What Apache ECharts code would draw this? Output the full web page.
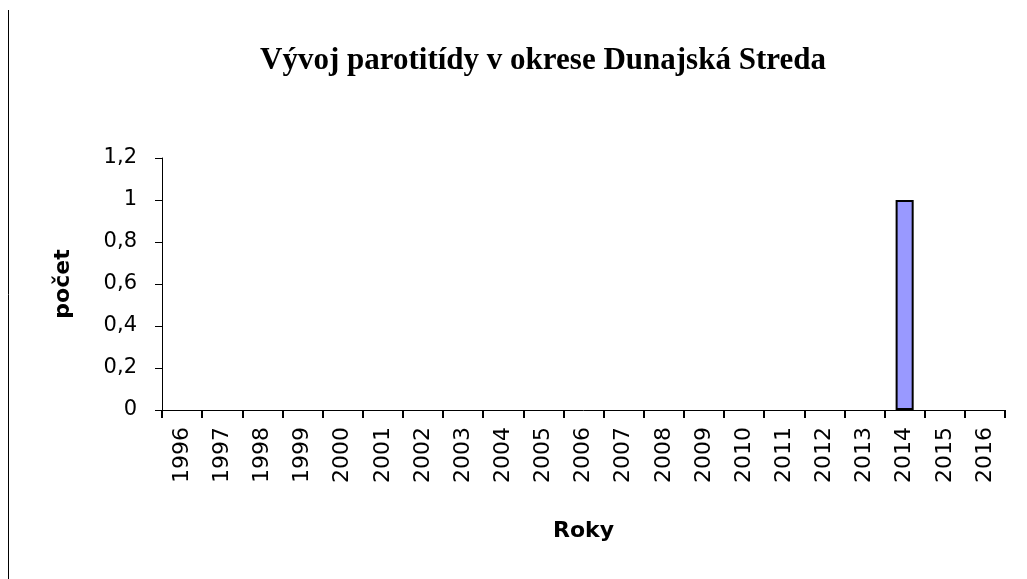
<!DOCTYPE html>
<html>
<head>
<meta charset="utf-8">
<script src="https://cdn.jsdelivr.net/npm/echarts@6/dist/echarts.min.js"></script>
<style>
  html, body { margin: 0; padding: 0; background: #fff; }
  #chart { width: 1027px; height: 579px; }
</style>
</head>
<body>
<div id="chart"></div>
<script>
// roky a počty prípadov
const years = ['1996', '1997', '1998', '1999', '2000', '2001', '2002', '2003', '2004', '2005', '2006',
  '2007', '2008', '2009', '2010', '2011', '2012', '2013', '2014', '2015', '2016'];
const counts = [0, 0, 0, 0, 0, 0, 0, 0, 0, 0, 0, 0, 0, 0, 0, 0, 0, 0, 1, 0, 0];
const yTicks = [0, 0.2, 0.4, 0.6, 0.8, 1, 1.2];

const myChart = echarts.init(document.getElementById('chart'));

// nulové stĺpce bez orámovania
const barData = counts.map(v => ({
  value: v,
  itemStyle: v === 0 ? { borderWidth: 0 } : {}
}));

const option = {
  backgroundColor: '#fff',
  animation: false,
  title: {
    text: 'Vývoj parotitídy v okrese Dunajská Streda',
    left: 538,
    textAlign: 'center',
    top: 40,
    textStyle: {
      fontFamily: 'Liberation Serif',
      fontWeight: 'bold',
      fontSize: 31,
      color: '#000'
    }
  },
  graphic: [
    {
      type: 'line',
      shape: { x1: 8.5, y1: 10, x2: 8.5, y2: 579 },
      style: { stroke: '#000', lineWidth: 1 }
    }
  ],
  grid: {
    left: 162,
    right: 22,
    top: 158,
    bottom: 169
  },
  xAxis: {
    type: 'category',
    data: years,
    name: 'Roky',
    nameLocation: 'middle',
    nameGap: 110,
    nameTextStyle: {
      fontFamily: 'DejaVu Sans',
      fontWeight: 'bold',
      fontSize: 22,
      color: '#000'
    },
    axisLine: { lineStyle: { color: '#000', width: 1 } },
    axisTick: { show: true, alignWithLabel: false, length: 8, lineStyle: { color: '#000', width: 2 } },
    axisLabel: {
      rotate: 90,
      margin: 17,
      interval: 0,
      fontFamily: 'DejaVu Sans',
      fontSize: 22,
      color: '#000'
    },
    splitLine: { show: false }
  },
  yAxis: {
    type: 'value',
    min: yTicks[0],
    max: yTicks[yTicks.length - 1],
    interval: 0.2,
    name: 'počet',
    nameLocation: 'middle',
    nameGap: 88,
    nameRotate: 90,
    nameTextStyle: {
      fontFamily: 'DejaVu Sans',
      fontWeight: 'bold',
      fontSize: 22,
      color: '#000'
    },
    axisLine: { show: true, lineStyle: { color: '#000', width: 1 } },
    axisTick: { show: true, length: 7, lineStyle: { color: '#000', width: 1 } },
    axisLabel: {
      margin: 25,
      fontFamily: 'DejaVu Sans',
      fontSize: 21,
      color: '#000',
      formatter: v => String(Math.round(v * 10) / 10).replace('.', ',')
    },
    splitLine: { show: false }
  },
  series: [
    {
      name: 'počet',
      type: 'bar',
      data: barData,
      barWidth: '45%',
      itemStyle: {
        color: '#9999FF',
        borderColor: '#000',
        borderWidth: 2
      }
    }
  ]
};

myChart.setOption(option);
</script>
</body>
</html>
